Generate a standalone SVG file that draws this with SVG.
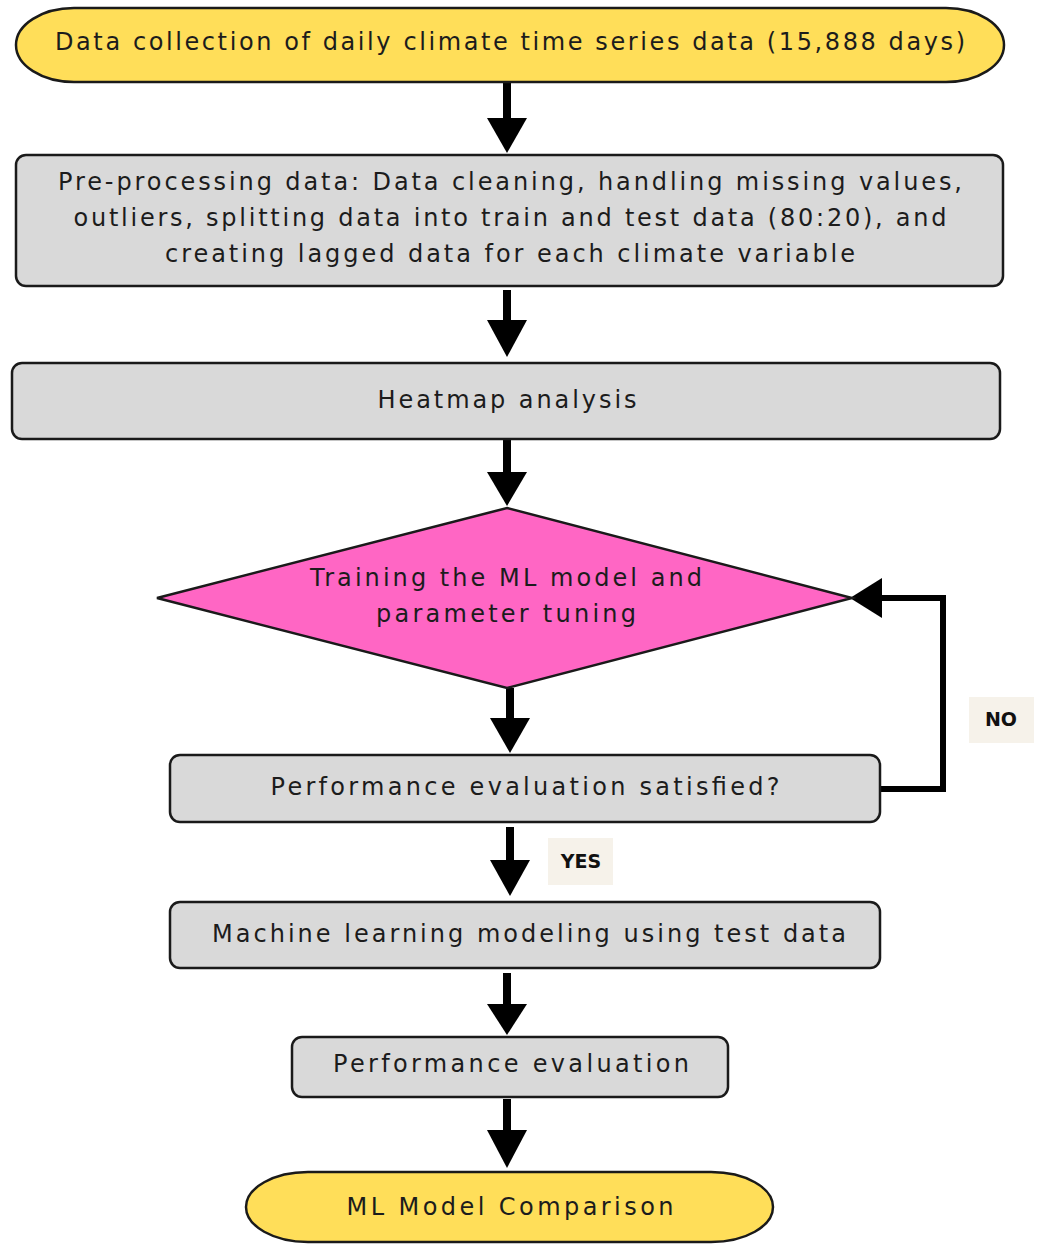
<svg xmlns="http://www.w3.org/2000/svg" width="1037" height="1244" viewBox="0 0 1037 1244">
<style>
.t{font-family:"DejaVu Sans","Liberation Sans",sans-serif;font-size:24px;fill:#1c1c1c;text-anchor:middle;dominant-baseline:central}
.lb{font-family:"DejaVu Sans","Liberation Sans",sans-serif;font-size:19px;font-weight:bold;fill:#111;text-anchor:middle;dominant-baseline:central}
.term{fill:#ffde59;stroke:#1a1a1a;stroke-width:2.5}
.box{fill:#d9d9d9;stroke:#1a1a1a;stroke-width:2.5}
.dia{fill:#ff66c4;stroke:#1a1a1a;stroke-width:2.5}
.shaft{stroke:#000;stroke-width:8;fill:none}
.head{fill:#000}
.lbg{fill:#f6f2ea}
</style>
<rect width="1037" height="1244" fill="#ffffff"/>
<g id="connectors">
  <line class="shaft" x1="507" y1="83" x2="507" y2="122"/>
  <polygon class="head" points="487,118 527,118 507,153"/>
  <line class="shaft" x1="507" y1="290" x2="507" y2="324"/>
  <polygon class="head" points="487,320 527,320 507,357"/>
  <line class="shaft" x1="507" y1="440" x2="507" y2="476"/>
  <polygon class="head" points="487,472 527,472 507,506"/>
  <line class="shaft" x1="510" y1="688" x2="510" y2="722"/>
  <polygon class="head" points="490,718 530,718 510,753"/>
  <polyline points="880,789 943,789 943,598 878,598" fill="none" stroke="#000" stroke-width="6"/>
  <polygon class="head" points="850,598 882,578 882,618"/>
  <line class="shaft" x1="510" y1="827" x2="510" y2="864"/>
  <polygon class="head" points="490,860 530,860 510,896"/>
  <line class="shaft" x1="507" y1="973" x2="507" y2="1008"/>
  <polygon class="head" points="487,1004 527,1004 507,1035"/>
  <line class="shaft" x1="507" y1="1099" x2="507" y2="1134"/>
  <polygon class="head" points="487,1130 527,1130 507,1168"/>
  <g id="label-no">
    <rect class="lbg" x="969" y="697" width="65" height="46"/>
    <text class="lb" x="1001" y="719">NO</text>
  </g>
  <g id="label-yes">
    <rect class="lbg" x="548" y="838" width="65" height="47"/>
    <text class="lb" x="581" y="861">YES</text>
  </g>
</g>
<g id="n1">
  <rect class="term" x="16" y="8" width="988" height="74" rx="58" ry="37"/>
  <text class="t" x="510" y="42" textLength="910" lengthAdjust="spacing">Data collection of daily climate time series data (15,888 days)</text>
</g>
<g id="n2">
  <rect class="box" x="16" y="155" width="987" height="131" rx="10"/>
  <text class="t" x="510" y="182" textLength="904" lengthAdjust="spacing">Pre-processing data: Data cleaning, handling missing values,</text>
  <text class="t" x="510" y="218" textLength="873" lengthAdjust="spacing">outliers, splitting data into train and test data (80:20), and</text>
  <text class="t" x="510" y="254" textLength="690" lengthAdjust="spacing">creating lagged data for each climate variable</text>
</g>
<g id="n3">
  <rect class="box" x="12" y="363" width="988" height="76" rx="10"/>
  <text class="t" x="507" y="400" textLength="259" lengthAdjust="spacing">Heatmap analysis</text>
</g>
<g id="n4">
  <polygon class="dia" points="507,508 852,598 507,688 157,598"/>
  <text class="t" x="506" y="578" textLength="392" lengthAdjust="spacing">Training the ML model and</text>
  <text class="t" x="506" y="614" textLength="260" lengthAdjust="spacing">parameter tuning</text>
</g>
<g id="n5">
  <rect class="box" x="170" y="755" width="710" height="67" rx="10"/>
  <text class="t" x="525" y="787" textLength="509" lengthAdjust="spacing">Performance evaluation satisfied?</text>
</g>
<g id="n6">
  <rect class="box" x="170" y="902" width="710" height="66" rx="10"/>
  <text class="t" x="529" y="934" textLength="634" lengthAdjust="spacing">Machine learning modeling using test data</text>
</g>
<g id="n7">
  <rect class="box" x="292" y="1037" width="436" height="60" rx="10"/>
  <text class="t" x="511" y="1064" textLength="356" lengthAdjust="spacing">Performance evaluation</text>
</g>
<g id="n8">
  <rect class="term" x="246" y="1172" width="527" height="70" rx="62" ry="35"/>
  <text class="t" x="510" y="1207" textLength="327" lengthAdjust="spacing">ML Model Comparison</text>
</g>
</svg>
